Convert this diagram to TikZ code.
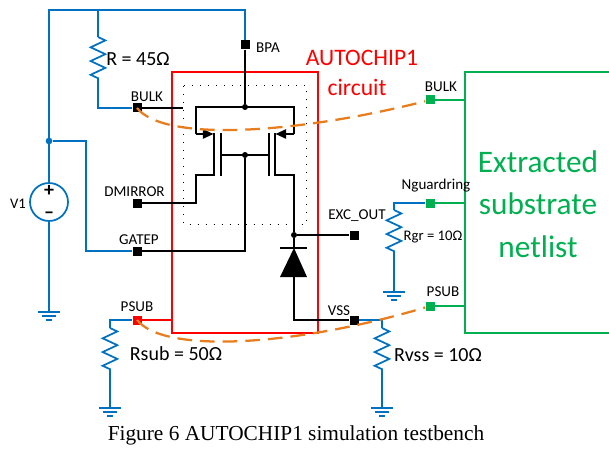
\documentclass[tikz,border=0pt]{standalone}
\usepackage{fontspec}
\setmainfont{Carlito}
\newfontfamily\capfont{Liberation Serif}
\usetikzlibrary{arrows.meta, decorations.pathmorphing}
\definecolor{wireblue}{RGB}{0, 112, 192}
\definecolor{netgreen}{RGB}{0, 176, 80}
\definecolor{linkorange}{RGB}{232, 125, 30}

\begin{document}
\begin{tikzpicture}[
  x=0.75pt, y=-0.75pt,
  wire/.style={draw=black, line width=1.3pt},
  bwire/.style={draw=wireblue, line width=1.3pt},
  gwire/.style={draw=netgreen, line width=1.3pt},
  res/.style={bwire, decorate, decoration={zigzag, amplitude=5.5pt, segment length=10.3pt}},
  pad/.style={fill=black, minimum size=6.75pt, inner sep=0pt},
  gpad/.style={pad, fill=netgreen},
  dot/.style={circle, fill=black, minimum size=4.5pt, inner sep=0pt},
  lbl/.style={font=\fontsize{11.3}{13}\selectfont, inner sep=0pt},
  val/.style={font=\fontsize{15}{17}\selectfont, inner sep=0pt},
  link/.style={draw=linkorange, line width=1.7pt, dash pattern=on 11pt off 6pt},
  gnd/.pic={
    \draw[bwire] (-11,0) -- (11,0);
    \draw[bwire] (-7,4) -- (7,4);
    \draw[bwire] (-3,8) -- (3,8);
  }
]
  \useasboundingbox (0,0) rectangle (609,449);

  % boxes
  \draw[red, line width=1.4pt] (172,72) rectangle (318,333);
  \draw[black, line width=0.75pt, dash pattern=on 0.75pt off 5.25pt] (183.5,86) rectangle (306,224);
  \draw[gwire] (609,72) -- (465,72) -- (465,333) -- (609,333);

  % pads
  \node[pad] (bpa) at (245,45) {};
  \node[pad] (bulk) at (137,108) {};
  \node[pad] (dmirror) at (137,203) {};
  \node[pad] (gatep) at (137,251) {};
  \node[pad, fill=red] (psub) at (137,320) {};
  \node[pad] (excout) at (354,235) {};
  \node[pad] (vss) at (354,320) {};
  \node[gpad] (gbulk) at (430,100) {};
  \node[gpad] (nguard) at (430,203) {};
  \node[gpad] (gpsub) at (430,306) {};

  % source
  \node[draw=wireblue, line width=1.3pt, circle, minimum size=28.5pt, inner sep=0pt] (v1) at (49,202) {};
  \node[font=\fontsize{15}{15}\selectfont\bfseries, inner sep=0pt] (vplus) at (49,191) {+};
  \node[font=\fontsize{15}{15}\selectfont\bfseries, inner sep=0pt] (vminus) at (49,215) {–};

  % blue wiring, left side
  \coordinate (railL) at (49,10);
  \coordinate (railR) at (245,10);
  \coordinate (r1top) at (98,37);
  \coordinate (r1bot) at (98,79);
  \coordinate (gnd1) at (49,312);
  \node[circle, fill=wireblue, minimum size=5pt, inner sep=0pt] (vjoin) at (49,141) {};
  \coordinate (vbranch) at (86,141);
  \draw[bwire] (v1) -- (railL) -- (railR) -- (bpa);
  \draw[bwire] (98,10) -- (r1top);
  \draw[res] (r1top) -- (r1bot);
  \draw[bwire] (r1bot) |- (bulk);
  \draw[bwire] (v1) -- (gnd1);
  \draw[bwire] (vjoin) -- (vbranch) |- (gatep);
  \pic at (gnd1) {gnd};

  % psub branch
  \coordinate (r2top) at (110,328);
  \coordinate (r2bot) at (110,370);
  \coordinate (gnd2) at (110,408);
  \draw[line width=1.3pt, red] (psub) -- (172,320);
  \draw[bwire] (psub) -| (r2top);
  \draw[res] (r2top) -- (r2bot);
  \draw[bwire] (r2bot) -- (gnd2);
  \pic at (gnd2) {gnd};

  % vss branch
  \coordinate (r3top) at (382,328);
  \coordinate (r3bot) at (382,370);
  \coordinate (gnd3) at (382,408);
  \draw[bwire] (vss) -| (r3top);
  \draw[res] (r3top) -- (r3bot);
  \draw[bwire] (r3bot) -- (gnd3);
  \pic at (gnd3) {gnd};

  % guard ring branch
  \coordinate (r4top) at (394,210);
  \coordinate (r4bot) at (394,252);
  \coordinate (gnd4) at (394,292);
  \draw[bwire] (nguard) -| (r4top);
  \draw[res] (r4top) -- (r4bot);
  \draw[bwire] (r4bot) -- (gnd4);
  \pic at (gnd4) {gnd};

  % green stubs
  \draw[gwire] (gbulk) -- (465,100);
  \draw[gwire] (nguard) -- (465,203);
  \draw[gwire] (gpsub) -- (465,306);

  % mirror
  \node[dot] (topdot) at (245,107) {};
  \node[dot] (gatedot) at (245,155) {};
  \node[dot] (outdot) at (294,235) {};
  \draw[wire] (bpa) -- (topdot);
  \draw[wire] (bulk) -- (183,108);
  \draw[wire] (196,134) -- (196,107) -- (294,107) -- (294,134);
  \draw[wire, -{Triangle[length=8pt, width=7pt]}] (196,134) -- (213.5,134);
  \draw[wire, -{Triangle[length=8pt, width=7pt]}] (294,134) -- (275.5,134);
  \draw[wire, line width=1.5pt] (214,133) -- (214,176);
  \draw[wire, line width=1.5pt] (220.5,133) -- (220.5,176);
  \draw[wire, line width=1.5pt] (269,133) -- (269,176);
  \draw[wire, line width=1.5pt] (275,133) -- (275,176);
  \draw[wire] (220.5,155) -- (269,155);
  \draw[wire] (214,175) -- (196,175) |- (dmirror);
  \draw[wire] (gatedot) |- (gatep);
  \draw[wire] (275,175) -- (294,175) -- (outdot);
  \draw[wire] (outdot) -- (excout);

  % diode
  \draw[wire] (outdot) -- (294,248);
  \draw[wire] (280,248) -- (307,248);
  \fill[black] (294,248) -- (307,277) -- (280,277) -- cycle;
  \draw[wire] (294,277) |- (vss);

  % dashed links
  \draw[link] (bulk.center) .. controls (165,143) and (300,133) .. (gbulk);
  \draw[link] (psub.center) .. controls (165,355) and (300,345) .. (gpsub);

  % labels
  \node[lbl] (lbulk) at (147,97) {BULK};
  \node[lbl] (ldmirror) at (134.5,192) {DMIRROR};
  \node[lbl] (lgatep) at (139,240) {GATEP};
  \node[lbl] (lpsub) at (137,306.5) {PSUB};
  \node[lbl] (lbpa) at (268,48) {BPA};
  \node[lbl] (lexc) at (357,216) {EXC\_OUT};
  \node[lbl] (lvss) at (339,311) {VSS};
  \node[lbl] (lgbulk) at (441,87) {BULK};
  \node[lbl] (lnguard) at (436,186) {Nguardring};
  \node[lbl] (lgpsub) at (443,292) {PSUB};
  \node[lbl, font=\fontsize{11}{13}\selectfont] (lv1) at (18,204) {V1};
  \node[lbl, font=\fontsize{11}{13}\selectfont] (lrgr) at (433,237) {Rgr = 10Ω};
  \node[val] (lr) at (138,59) {R = 45Ω};
  \node[val] (lrsub) at (176,354) {Rsub = 50Ω};
  \node[val] (lrvss) at (438,355) {Rvss = 10Ω};
  \node[val, red, font=\fontsize{17.7}{20}\selectfont] (lchip) at (362,58) {AUTOCHIP1};
  \node[val, red, font=\fontsize{17.7}{20}\selectfont] (lcircuit) at (357,87) {circuit};
  \node[font=\fontsize{23.5}{32}\selectfont, text=netgreen, align=center, inner sep=0pt] (lnet) at (538,204) {Extracted\\substrate\\netlist};
  \node[font=\capfont\fontsize{16}{18}\selectfont, inner sep=0pt] (lcap) at (296,435) {Figure 6 AUTOCHIP1 simulation testbench};
\end{tikzpicture}
\end{document}
